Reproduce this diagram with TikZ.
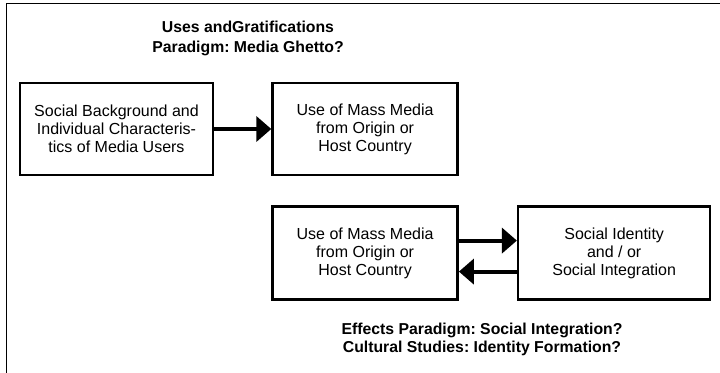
\documentclass[tikz,border=0pt]{standalone}
\usepackage{fontspec}
\setmainfont{Liberation Sans}
\usepackage{tikz}
\usetikzlibrary{positioning,arrows.meta,calc}
\frenchspacing
\tikzset{%
	block/.style    = {draw, rectangle, line width=1.3pt, align=center,
		minimum height = 46pt, minimum width = 92.5pt,
		font=\fontsize{8}{9}\selectfont},
	heading/.style  = {align=center, font=\fontsize{7.9}{9}\selectfont\bfseries}
}
\begin{document}
\begin{tikzpicture}[x=0.5pt, y=-0.5pt,
          >={Triangle[length=7.5pt,width=12.5pt]},
          arr/.style={->, line width=2pt}]
        \useasboundingbox (0,0) rectangle (720,373);
        % frame
        \draw[line width=0.85pt] (6.5,373) -- (6.5,3.5) -- (720,3.5);
        \draw
        	node at (116.5,129)[block, minimum width=96.5pt, name=bg]{Social Background and\\Individual Characteris-\\tics of Media Users}
        	node [block, right=28.5pt of bg] (use1) {Use of Mass Media\\from Origin or\\Host Country}
        	node [block, below=14.5pt of use1, minimum height=46.5pt] (use2) {Use of Mass Media\\from Origin or\\Host Country}
        	node [block, right=29pt of use2, minimum width=96pt, minimum height=46.5pt] (ident) {Social Identity\\and / or\\Social Integration};

        	\node[heading, font=\fontsize{7.9}{10}\selectfont\bfseries] (title) at (248,38) {Uses andGratifications\\Paradigm: Media Ghetto?};
        	\node[heading] (effects) at (482,339.5) {Effects Paradigm: Social Integration?\\Cultural Studies: Identity Formation?};

        	\draw[arr] (bg) -- (use1);
        	\draw[arr] ($(use2.east)+(0,-12.5)$) -- ($(ident.west)+(0,-12.5)$);
        	\draw[arr] ($(ident.west)+(0,18.5)$) -- ($(use2.east)+(0,18.5)$);
\end{tikzpicture}
\end{document}
